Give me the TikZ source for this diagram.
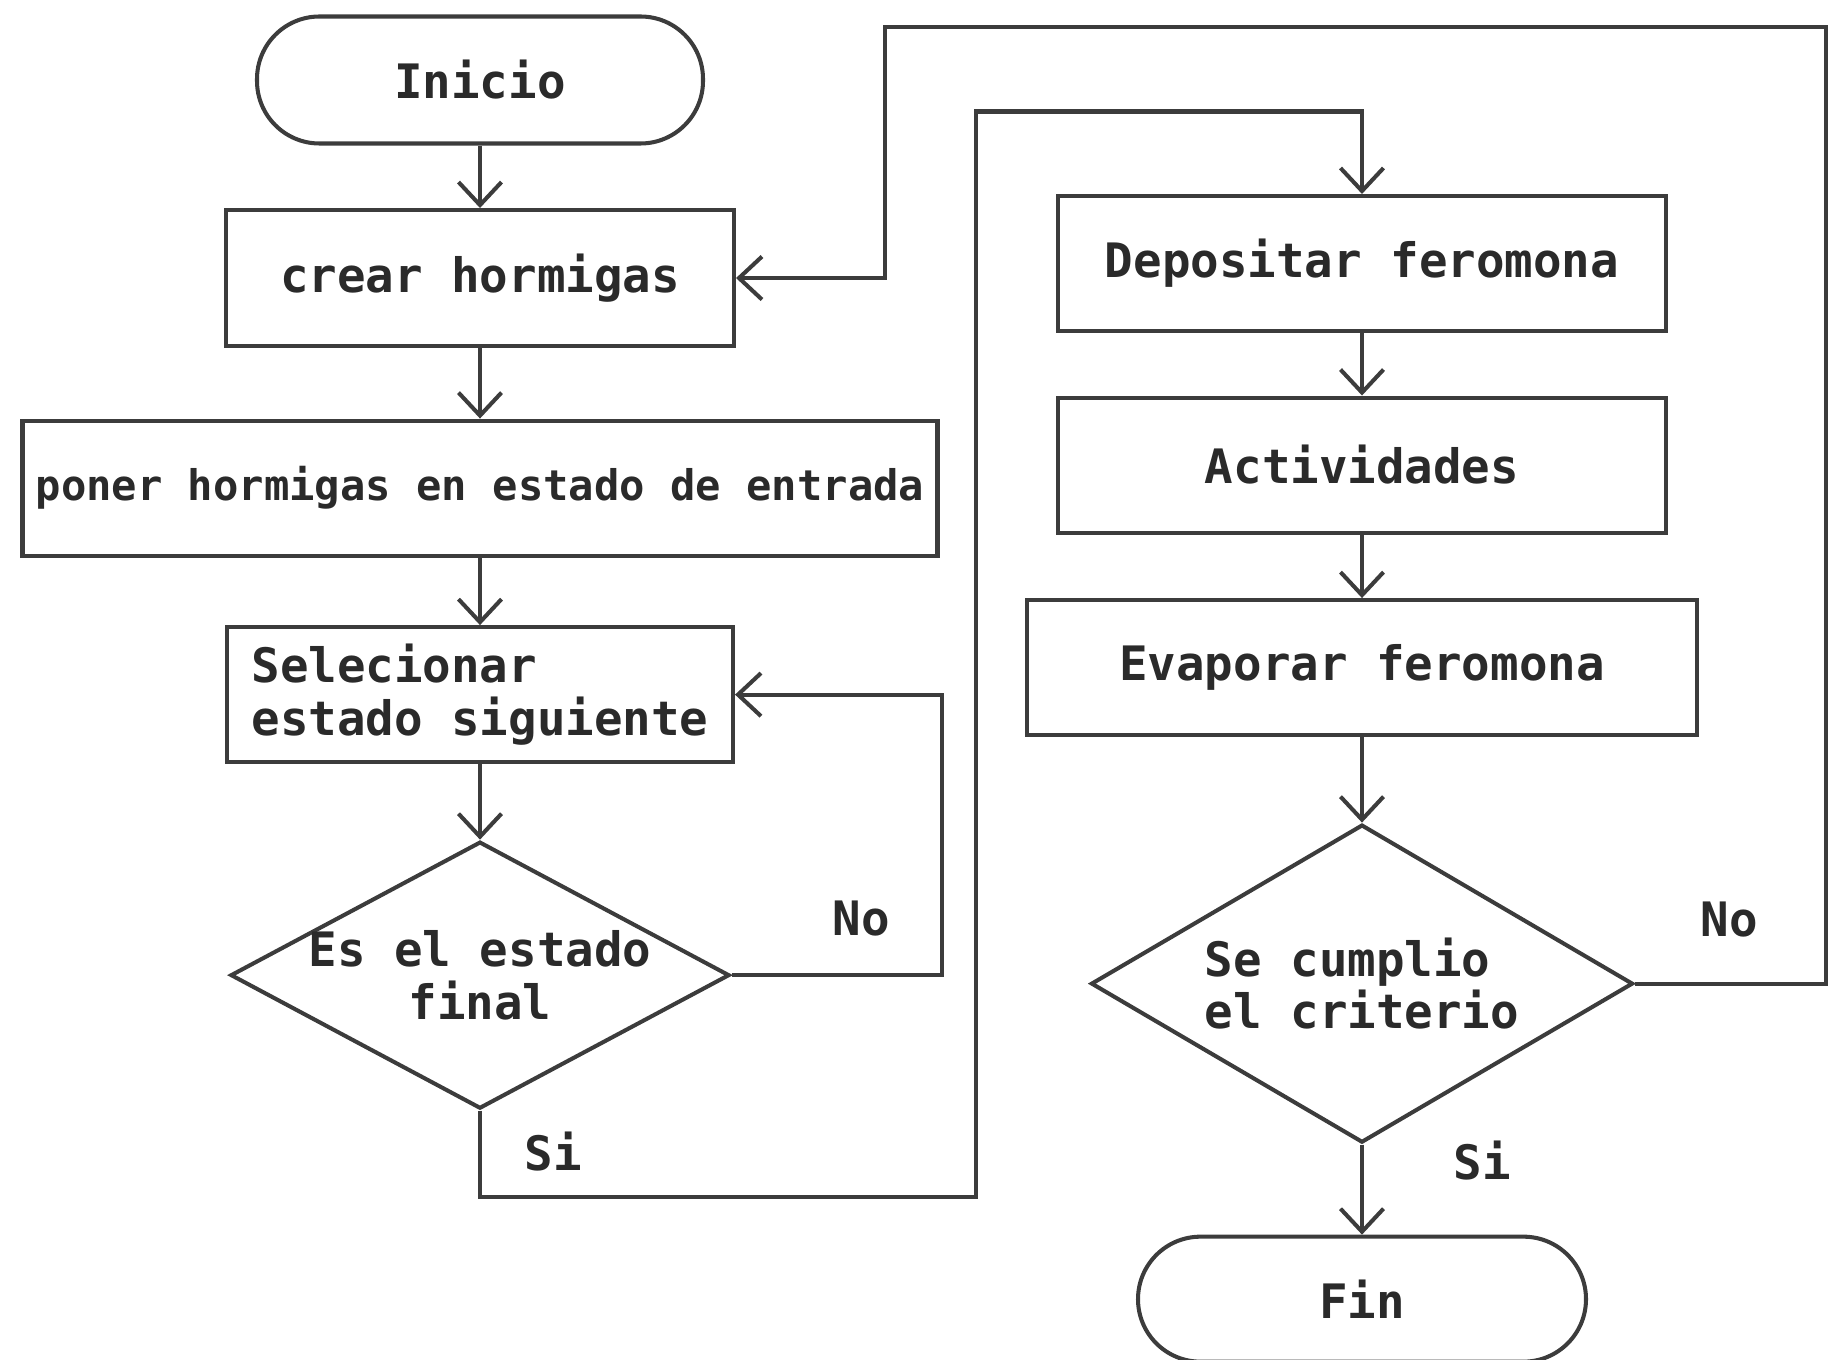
\documentclass[tikz,border=0pt]{standalone}
\usepackage{fontspec}
\setmainfont{DejaVu Sans Mono}
\usetikzlibrary{shapes,arrows.meta,positioning}
\definecolor{linegray}{HTML}{3C3C3C}
\definecolor{textgray}{HTML}{2A2A2A}
\newcommand{\flowfont}{\fontsize{27}{30}\selectfont\bfseries}
\newcommand{\smallflowfont}{\fontsize{24}{27}\selectfont\bfseries}
\tikzstyle{terminal} = [rectangle, draw=linegray, line width=2.3pt, text=textgray,
    font=\flowfont, minimum width=8.92cm, minimum height=2.54cm, rounded corners=1.25cm]
\tikzstyle{process} = [rectangle, draw=linegray, line width=2.3pt, text=textgray,
    font=\flowfont, minimum height=2.7cm, text centered]
\tikzstyle{decision} = [diamond, draw=linegray, line width=2.3pt, text=textgray,
    font=\flowfont, inner sep=-4mm]
\tikzstyle{lbl} = [text=textgray, font=\flowfont]
\tikzstyle{flow} = [draw, line width=2.3pt, color=linegray,
    -{Straight Barb[length=4.6mm,width=8.6mm]}]

\begin{document}
\begin{tikzpicture}
    \useasboundingbox (0,0) rectangle (36.62,-27.2);

    % left column
    \node[terminal] (inicio) at (9.6,-1.6) {Inicio};
    \node[process, minimum width=10.16cm, minimum height=2.72cm, below=1.25cm of inicio] (crear) {crear hormigas};
    \node[process, minimum width=18.3cm, font=\smallflowfont, below=1.41cm of crear] (poner) {poner hormigas en estado de entrada};
    \node[process, minimum width=10.12cm, align=left, below=1.35cm of poner] (selec) {Selecionar\\estado siguiente};
    \node[decision, aspect=1.87, minimum width=9.98cm, minimum height=5.34cm, align=center, below=1.51cm of selec] (final) {Es el estado\\final};

    % right column
    \node[process, minimum width=12.16cm] (depo) at (27.24,-5.27) {Depositar feromona};
    \node[process, minimum width=12.16cm, below=1.25cm of depo] (activ) {Actividades};
    \node[process, minimum width=13.4cm, below=1.27cm of activ] (evap) {Evaporar feromona};
    \node[decision, aspect=1.7, minimum width=10.84cm, minimum height=6.36cm, align=left, below=1.71cm of evap] (crit) {Se cumplio\\el criterio};
    \node[terminal, minimum width=8.96cm, minimum height=2.5cm, below=1.8cm of crit] (fin) {Fin};

    \node[lbl] (no1) at (17.22,-18.38) {No};
    \node[lbl] (si1) at (11.06,-23.04) {Si};
    \node[lbl] (no2) at (34.58,-18.4) {No};
    \node[lbl] (si2) at (29.64,-23.22) {Si};

    \coordinate (siTop) at (19.52,-2.23);
    \coordinate (noTop) at (36.52,-0.534);
    \coordinate (noLeft) at (17.7,-0.534);

    \path[flow] (inicio) -- (crear);
    \path[flow] (crear) -- (poner);
    \path[flow] (poner) -- (selec);
    \path[flow] (selec) -- (final);
    \path[flow] (final.east) -- ++(4.2,0) |- (selec.east);
    \path[flow] (final.south) -- ++(0,-1.72) -| (siTop) -| (depo.north);

    \path[flow] (depo) -- (activ);
    \path[flow] (activ) -- (evap);
    \path[flow] (evap) -- (crit);
    \path[flow] (crit) -- (fin);
    \path[flow] (crit.east) -| (noTop) -- (noLeft) |- (crear.east);
\end{tikzpicture}
\end{document}
